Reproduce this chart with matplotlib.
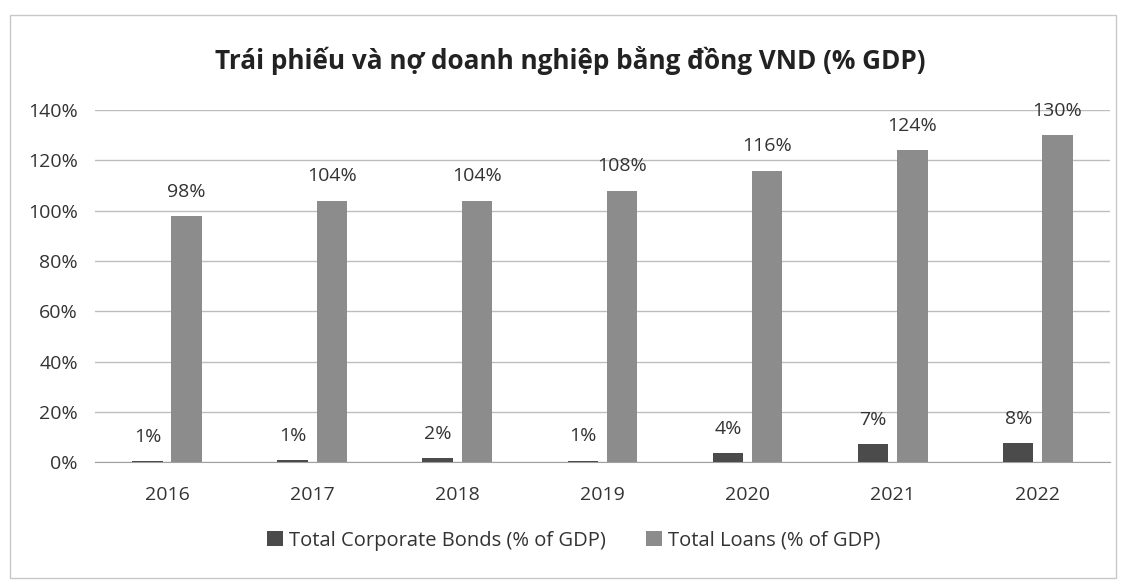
import numpy as np
import matplotlib
matplotlib.use('Agg')
import matplotlib.pyplot as plt
from matplotlib.patches import Rectangle

years = ['2016', '2017', '2018', '2019', '2020', '2021', '2022']
bonds = [0.5, 0.8, 1.6, 0.6, 3.6, 7.1, 7.6]
bond_labels = ['1%', '1%', '2%', '1%', '4%', '7%', '8%']
loans = [98, 104, 104, 108, 116, 124, 130]
loan_labels = ['98%', '104%', '104%', '108%', '116%', '124%', '130%']

plt.rcParams['font.family'] = ['Open Sans', 'DejaVu Sans']

fig = plt.figure(figsize=(11.25, 5.8), dpi=100)
fig.patch.set_facecolor('white')
ax = fig.add_axes([0.084, 0.203, 0.903, 0.607])

x = np.arange(len(years))
w = 0.21
off = 0.135
c_bond = '#4b4b4b'
c_loan = '#8c8c8c'

b1 = ax.bar(x - off, bonds, w, color=c_bond, label='Total Corporate Bonds (% of GDP)', zorder=3)
b2 = ax.bar(x + off, loans, w, color=c_loan, label='Total Loans (% of GDP)', zorder=3)

for i in range(len(years)):
    ax.annotate(bond_labels[i], (x[i] - off, bonds[i]), xytext=(0, 11), textcoords='offset points',
                ha='center', va='bottom', fontsize=14, color='#333333')
    ax.annotate(loan_labels[i], (x[i] + off, loans[i]), xytext=(0, 11), textcoords='offset points',
                ha='center', va='bottom', fontsize=14, color='#333333')

ax.set_xlim(-0.5, 6.5)
ax.set_ylim(0, 140)
ax.set_yticks(np.arange(0, 141, 20))
ax.set_yticklabels(['%d%%' % v for v in range(0, 141, 20)])
ax.set_xticks(x)
ax.set_xticklabels(years)
ax.tick_params(axis='both', length=0, labelsize=14, labelcolor='#333333')
ax.tick_params(axis='x', pad=17)
ax.tick_params(axis='y', pad=12)
ax.yaxis.grid(True, color='#bdbdbd', linewidth=1, zorder=0)
for s in ['top', 'right', 'left']:
    ax.spines[s].set_visible(False)
ax.spines['bottom'].set_color('#a0a0a0')

fig.text(0.507, 0.895, 'Trái phiếu và nợ doanh nghiệp bằng đồng VND (% GDP)',
         ha='center', va='center', fontsize=18.8, fontweight='bold', color='#222222')

fig.legend(handles=[b1, b2], loc='center', bbox_to_anchor=(0.51, 0.068), ncol=2, frameon=False,
           fontsize=14.5, handlelength=0.8, handleheight=0.8, handletextpad=0.3, columnspacing=2.0,
           labelcolor='#333333')

fig.patches.append(Rectangle((0.009, 0.004), 0.983, 0.97, transform=fig.transFigure,
                             fill=False, edgecolor='#c8c8c8', linewidth=1))

fig.savefig('out.png', dpi=100)
